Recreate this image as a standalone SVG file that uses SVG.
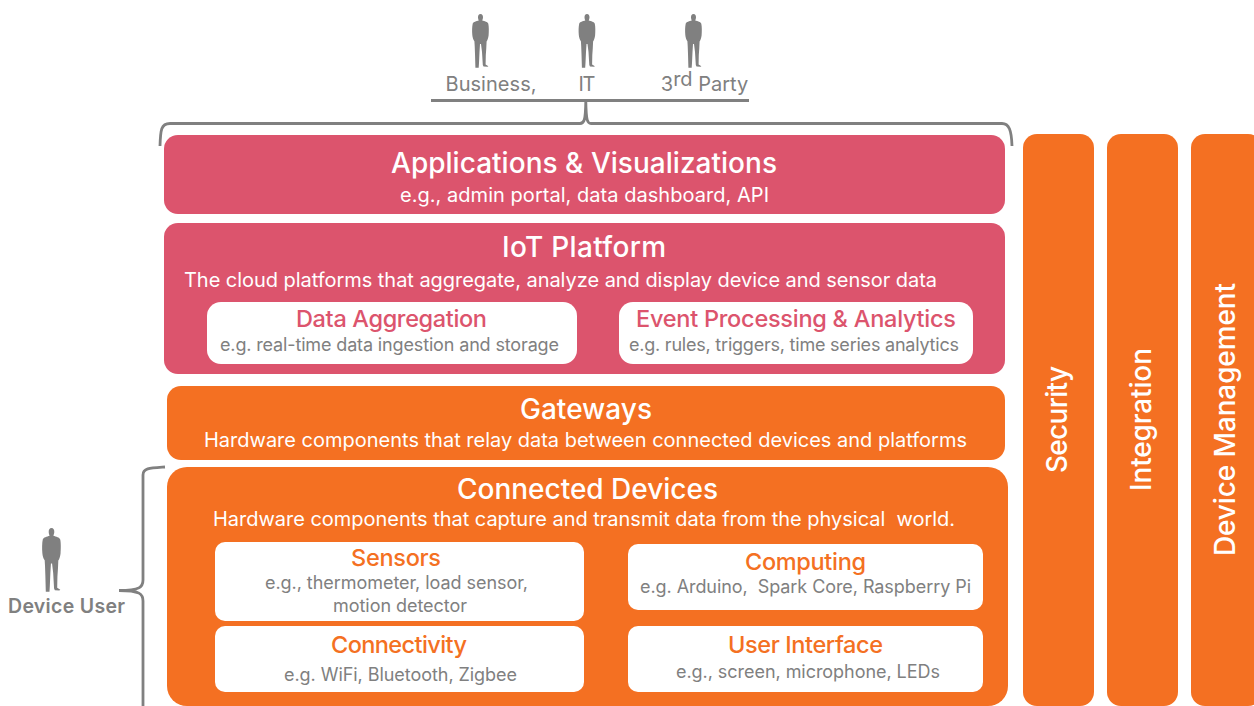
<svg xmlns="http://www.w3.org/2000/svg" width="1254" height="706" viewBox="0 0 1254 706">
<style>
text{font-family:Inter,"Liberation Sans",Arial,sans-serif;text-anchor:middle;white-space:pre}
.pink{fill:#dc546d}.orange{fill:#f47022}.card{fill:#fff}
.t1{font-size:28px;font-weight:500;fill:#fff}.t2{font-size:20px;fill:#fff}
.h3p{font-size:23.500px;font-weight:500;fill:#dc546d}.h3o{font-size:23.500px;font-weight:500;fill:#f47022}
.g{font-size:18px;fill:#808080}.p{font-size:20px;fill:#808080}
.side{font-size:28px;font-weight:500;fill:#fff}
.br{fill:none;stroke:#808080;stroke-width:2.800}
</style>
<defs>
<symbol id="person" viewBox="0 0 17 54" overflow="visible" preserveAspectRatio="none">
<path fill="#808080" d="M8.500 0C10.300 0 11 1.500 11 3.200C11 4.800 10.400 5.800 10.200 6.500C12.500 7.200 15.800 7.800 16.300 9.800C17 12.500 16.900 18 16.600 21.500C16.300 24 15.400 26.500 14.600 27.500L14.300 34L13.800 41L13.600 50.500L16.400 52.200L15.500 52.800L11.500 52.600L10.800 51L10 38L9 30H8L7.500 38L7 49L6.700 53.800L3.400 53.800L3 40L2.700 32L2.400 27.300C1.300 26 0.500 23.500 0.300 21C0 17.500 0 12.500 0.700 9.800C1.200 7.800 4.500 7.200 6.800 6.500C6.500 5.700 6 4.800 6 3.200C6 1.500 6.700 0 8.500 0Z"/>
</symbol>
</defs>
<g id="connectors">
<path class="br" d="M431 100.500H749"/>
<path class="br" d="M160 146C160.500 130 161 123.500 170 123.500H580C584 123.500 585.500 121 585.800 101C586.100 121 587.500 123.500 591 123.500H1002C1009 123.500 1011.500 130 1012 146"/>
<path class="br" d="M165 467C150 468 143 468 143 475V580C143 587 140 590.500 119 590.500C140 590.500 143 594 143 601V706"/>
</g>
<g id="user-business"><use href="#person" x="472" y="14" width="17" height="54"/><text class="p" x="491" y="91" textLength="91">Business,</text></g>
<g id="user-it"><use href="#person" x="578.500" y="14" width="17" height="54"/><text class="p" x="587" y="91" textLength="17">IT</text></g>
<g id="user-third-party"><use href="#person" x="685" y="14" width="17" height="54"/><text class="p" x="704.500" y="91">3<tspan dy="-5">rd</tspan><tspan dy="5"> Party</tspan></text></g>
<g id="device-user"><use href="#person" x="42" y="528" width="19" height="64"/><text x="66.500" y="613" font-size="19.500" font-weight="600" fill="#808080" textLength="117">Device User</text></g>
<g id="applications"><rect class="pink" x="164" y="135" width="841" height="79" rx="14"/>
<text class="t1" x="584" y="173" textLength="386">Applications &amp; Visualizations</text>
<text class="t2" x="584.500" y="202" textLength="369">e.g., admin portal, data dashboard, API</text></g>
<g id="iot-platform"><rect class="pink" x="164" y="223" width="841" height="151" rx="14"/>
<text class="t1" x="584" y="257" textLength="164">IoT Platform</text>
<text class="t2" x="560.500" y="287" textLength="753">The cloud platforms that aggregate, analyze and display device and sensor data</text></g>
<g id="data-aggregation"><rect class="card" x="207" y="302" width="370" height="62" rx="14"/>
<text class="h3p" x="391.500" y="327" textLength="191">Data Aggregation</text>
<text class="g" x="389.500" y="351" textLength="339">e.g. real-time data ingestion and storage</text></g>
<g id="event-processing"><rect class="card" x="619" y="302" width="354" height="62" rx="14"/>
<text class="h3p" x="796" y="327" textLength="320">Event Processing &amp; Analytics</text>
<text class="g" x="794" y="351" textLength="330">e.g. rules, triggers, time series analytics</text></g>
<g id="gateways"><rect class="orange" x="167" y="386" width="838" height="74" rx="14"/>
<text class="t1" x="586" y="419" textLength="132">Gateways</text>
<text class="t2" x="585.500" y="447" textLength="763">Hardware components that relay data between connected devices and platforms</text></g>
<g id="connected-devices"><rect class="orange" x="167" y="467" width="841" height="239" rx="20"/>
<text class="t1" x="587.500" y="499" textLength="261">Connected Devices</text>
<text class="t2" x="584" y="526" textLength="742">Hardware components that capture and transmit data from the physical  world.</text></g>
<g id="sensors"><rect class="card" x="215" y="542" width="369" height="79" rx="10"/>
<text class="h3o" x="396" y="566" textLength="90">Sensors</text>
<text class="g" x="396.500" y="589" textLength="263">e.g., thermometer, load sensor,</text>
<text class="g" x="400" y="612" textLength="134">motion detector</text></g>
<g id="computing"><rect class="card" x="628" y="544" width="355" height="66" rx="10"/>
<text class="h3o" x="805.500" y="570" textLength="121">Computing</text>
<text class="g" x="805.500" y="593" textLength="331">e.g. Arduino,  Spark Core, Raspberry Pi</text></g>
<g id="connectivity"><rect class="card" x="215" y="626" width="369" height="66" rx="10"/>
<text class="h3o" x="399" y="653" textLength="136">Connectivity</text>
<text class="g" x="400.500" y="681" textLength="233">e.g. WiFi, Bluetooth, Zigbee</text></g>
<g id="user-interface"><rect class="card" x="628" y="626" width="355" height="66" rx="10"/>
<text class="h3o" x="805.500" y="653" textLength="155">User Interface</text>
<text class="g" x="808" y="678" textLength="264">e.g., screen, microphone, LEDs</text></g>
<g id="security"><rect class="orange" x="1023" y="134" width="71" height="572" rx="14"/>
<text class="side" transform="translate(1067,419.500) rotate(-90)" textLength="107">Security</text></g>
<g id="integration"><rect class="orange" x="1107" y="134" width="71" height="572" rx="14"/>
<text class="side" transform="translate(1151,419.500) rotate(-90)" textLength="143">Integration</text></g>
<g id="device-management"><rect class="orange" x="1191" y="134" width="71" height="572" rx="14"/>
<text class="side" transform="translate(1235,419.500) rotate(-90)" textLength="273">Device Management</text></g>
</svg>
